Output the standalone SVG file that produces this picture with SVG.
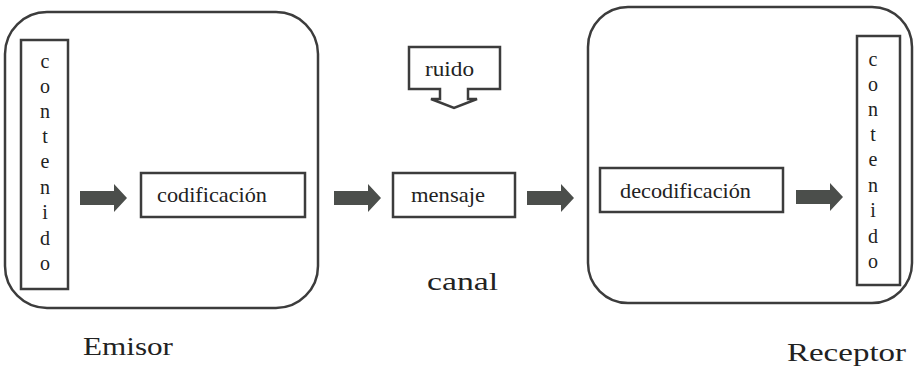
<svg xmlns="http://www.w3.org/2000/svg" width="914" height="372" viewBox="0 0 914 372">
<defs>
<style>
.frame{fill:none;stroke:#3c3c3c;stroke-width:2.5}
.box{fill:#fff;stroke:#3c3c3c;stroke-width:2.5}
.arr{fill:#4b4e4b;stroke:none}
.t{font-family:"Liberation Serif","Times New Roman",serif;fill:#222}
.s{font-size:21px}
.l{font-size:26px}
.v{font-size:20px;text-anchor:middle}
</style>
<path id="arrowShape" d="M0,-7 L34,-7 L34,-14 L47,0 L34,14 L34,7 L0,7 Z"/>
</defs>
<rect width="914" height="372" fill="#fff"/>

<g id="emisor">
<rect class="frame" x="5" y="12" width="313" height="296" rx="42" ry="42"/>
<text class="t l" x="83" y="355" textLength="90" lengthAdjust="spacingAndGlyphs">Emisor</text>
</g>

<g id="contenido-emisor">
<rect class="box" x="21" y="40" width="47" height="249"/>
<text class="t v" x="45" y="68">c</text>
<text class="t v" x="45" y="93">o</text>
<text class="t v" x="45" y="118">n</text>
<text class="t v" x="45" y="143">t</text>
<text class="t v" x="45" y="168">e</text>
<text class="t v" x="45" y="194">n</text>
<text class="t v" x="45" y="219">i</text>
<text class="t v" x="45" y="245">d</text>
<text class="t v" x="45" y="270">o</text>
</g>

<g id="codificacion">
<rect class="box" x="141" y="173" width="164" height="44"/>
<text class="t s" x="157" y="202" textLength="110" lengthAdjust="spacingAndGlyphs">codificación</text>
</g>

<g id="ruido">
<path class="box" d="M409,47 L500,47 L500,89 L468,89 L468,99 L477,99 L454,108 L431,99 L440,99 L440,89 L409,89 Z"/>
<text class="t s" x="425" y="76" textLength="49" lengthAdjust="spacingAndGlyphs">ruido</text>
</g>

<g id="mensaje">
<rect class="box" x="393" y="173" width="122" height="44"/>
<text class="t s" x="411" y="202" textLength="74" lengthAdjust="spacingAndGlyphs">mensaje</text>
</g>

<g id="canal">
<text class="t l" x="427" y="290" textLength="71" lengthAdjust="spacingAndGlyphs">canal</text>
</g>

<g id="receptor">
<rect class="frame" x="588" y="7" width="324" height="296" rx="40" ry="40"/>
<text class="t l" x="787" y="361" textLength="119" lengthAdjust="spacingAndGlyphs">Receptor</text>
</g>

<g id="decodificacion">
<rect class="box" x="600" y="168" width="183" height="44"/>
<text class="t s" x="620" y="198" textLength="131" lengthAdjust="spacingAndGlyphs">decodificación</text>
</g>

<g id="contenido-receptor">
<rect class="box" x="857" y="36" width="43" height="249"/>
<text class="t v" x="873" y="66">c</text>
<text class="t v" x="873" y="91">o</text>
<text class="t v" x="873" y="116">n</text>
<text class="t v" x="873" y="141">t</text>
<text class="t v" x="873" y="166">e</text>
<text class="t v" x="873" y="192">n</text>
<text class="t v" x="873" y="217">i</text>
<text class="t v" x="873" y="243">d</text>
<text class="t v" x="873" y="268">o</text>
</g>

<g id="connectors">
<use href="#arrowShape" class="arr" x="80" y="198"/>
<use href="#arrowShape" class="arr" x="334" y="198"/>
<use href="#arrowShape" class="arr" x="527" y="198"/>
<use href="#arrowShape" class="arr" x="796" y="197"/>
</g>
</svg>
